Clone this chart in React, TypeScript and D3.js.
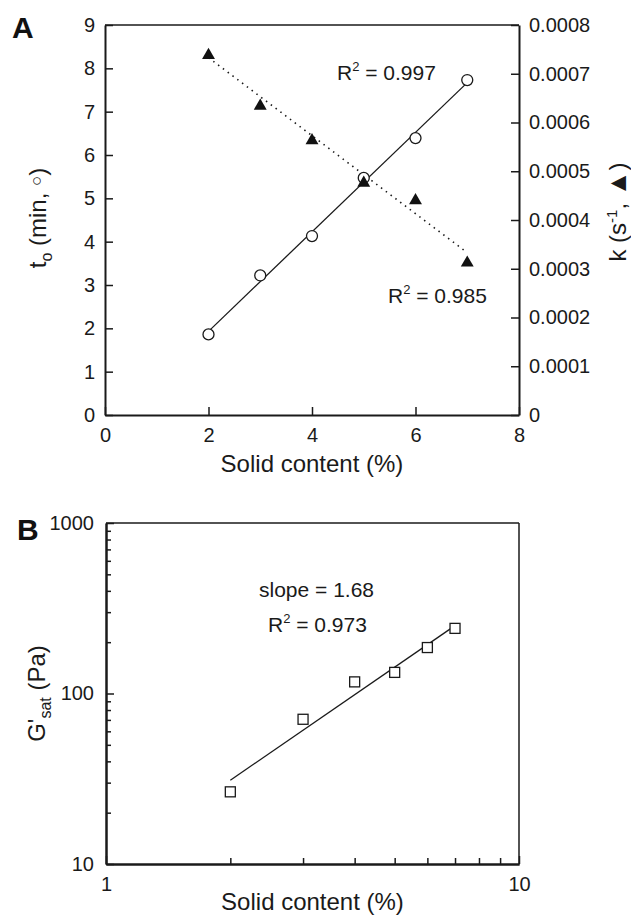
import React, { useEffect, useRef } from 'react';
import * as d3 from 'd3';

// panel A data
const solidContent = [2, 3, 4, 5, 6, 7];
const onsetTime = [1.86, 3.22, 4.13, 5.47, 6.39, 7.73];
const rateConstant = [0.000738, 0.000634, 0.000563, 0.000476, 0.00044, 0.000312];
const fitEnds = [2, 7];
const onsetFit = [1.93, 7.67];
const rateFit = [0.000733, 0.000333];
const tTicks = [0, 1, 2, 3, 4, 5, 6, 7, 8, 9];
const kTicks = [0, 0.0001, 0.0002, 0.0003, 0.0004, 0.0005, 0.0006, 0.0007, 0.0008];
const xTicksA = [0, 2, 4, 6, 8];

// panel B data
const gSat = [26.5, 70.6, 117, 133, 186, 241];
const gSatFit = [31, 250];
const gMajor = [10, 100, 1000];
const gMinor = [20, 30, 40, 50, 60, 70, 80, 90, 200, 300, 400, 500, 600, 700, 800, 900];
const xMajorB = [1, 10];
const xMinorB = [2, 3, 4, 5, 6, 7, 8, 9];

const FONT = '"Liberation Sans", Arial, Helvetica, sans-serif';

const App = () => {
  const ref = useRef<SVGSVGElement>(null);

  useEffect(() => {
    const svg = d3.select(ref.current);
    svg.selectAll('*').remove();

    const styleAxis = (g: any, width: number) => {
      g.attr('font-family', FONT).attr('font-size', 20);
      g.select('.domain').attr('stroke', '#1a1a1a').attr('stroke-width', width);
      g.selectAll('.tick line').attr('stroke', '#1a1a1a').attr('stroke-width', 1.5);
      g.selectAll('.tick text').attr('fill', '#1a1a1a');
    };

    // ---------- Panel A ----------
    const A = { left: 105, right: 519, top: 25, bottom: 415 };
    const x = d3.scaleLinear().domain([0, 8]).range([A.left, A.right]);
    const yT = d3.scaleLinear().domain([0, 9]).range([A.bottom, A.top]);
    const yK = d3.scaleLinear().domain([0, 0.0008]).range([A.bottom, A.top]);

    const pa = svg.append('g');

    // top border
    pa.append('line')
      .attr('x1', A.left).attr('x2', A.right)
      .attr('y1', A.top).attr('y2', A.top)
      .attr('stroke', '#1a1a1a').attr('stroke-width', 1.5);

    pa.append('g')
      .attr('transform', `translate(${A.left},0)`)
      .call(d3.axisLeft(yT).tickValues(tTicks).tickSizeInner(-8).tickSizeOuter(0).tickPadding(10).tickFormat(d3.format('d')))
      .call((g: any) => styleAxis(g, 2));

    pa.append('g')
      .attr('transform', `translate(${A.right},0)`)
      .call(
        d3.axisRight(yK).tickValues(kTicks).tickSizeInner(-8).tickSizeOuter(0).tickPadding(10)
          .tickFormat((d: any) => (d === 0 ? '0' : d3.format('.4f')(d)))
      )
      .call((g: any) => styleAxis(g, 2));

    pa.append('g')
      .attr('transform', `translate(0,${A.bottom})`)
      .call(d3.axisBottom(x).tickValues(xTicksA).tickSizeInner(-8).tickSizeOuter(0).tickPadding(13).tickFormat(d3.format('d')))
      .call((g: any) => styleAxis(g, 2));

    // fit lines
    pa.append('line')
      .attr('x1', x(fitEnds[0])).attr('y1', yT(onsetFit[0]))
      .attr('x2', x(fitEnds[1])).attr('y2', yT(onsetFit[1]))
      .attr('stroke', '#1a1a1a').attr('stroke-width', 1.3);

    pa.append('line')
      .attr('x1', x(fitEnds[0])).attr('y1', yK(rateFit[0]))
      .attr('x2', x(fitEnds[1])).attr('y2', yK(rateFit[1]))
      .attr('stroke', '#1a1a1a').attr('stroke-width', 1.6)
      .attr('stroke-dasharray', '1.5,4.5');

    // onset time circles
    pa.selectAll('.onset')
      .data(solidContent)
      .enter()
      .append('circle')
      .attr('class', 'onset')
      .attr('cx', (d) => x(d))
      .attr('cy', (d, i) => yT(onsetTime[i]))
      .attr('r', 5.5)
      .attr('fill', '#fff')
      .attr('stroke', '#1a1a1a')
      .attr('stroke-width', 1.3);

    // rate constant triangles
    const tri = d3.symbol().type(d3.symbolTriangle).size(72);
    pa.selectAll('.rate')
      .data(solidContent)
      .enter()
      .append('path')
      .attr('class', 'rate')
      .attr('d', tri)
      .attr('transform', (d, i) => `translate(${x(d)},${yK(rateConstant[i])})`)
      .attr('fill', '#111');

    const r2Label = (g: any, px: number, py: number, val: string) => {
      const t = g.append('text')
        .attr('x', px).attr('y', py)
        .attr('font-family', FONT).attr('font-size', 21).attr('fill', '#1a1a1a');
      t.append('tspan').text('R');
      t.append('tspan').attr('font-size', 13).attr('dy', -9).text('2');
      t.append('tspan').attr('dy', 9).text(` = ${val}`);
    };
    r2Label(pa, 337, 80, '0.997');
    r2Label(pa, 388, 303, '0.985');

    // axis titles
    pa.append('text')
      .attr('x', (A.left + A.right) / 2).attr('y', 472)
      .attr('text-anchor', 'middle')
      .attr('font-family', FONT).attr('font-size', 24).attr('fill', '#1a1a1a')
      .text('Solid content (%)');

    const tLab = pa.append('text')
      .attr('transform', `translate(46,218) rotate(-90)`)
      .attr('text-anchor', 'middle')
      .attr('font-family', FONT).attr('font-size', 24).attr('fill', '#1a1a1a');
    tLab.append('tspan').text('t');
    tLab.append('tspan').attr('font-size', 16).attr('dy', 6).text('o');
    tLab.append('tspan').attr('dy', -6).text(' (min, ');
    tLab.append('tspan').attr('font-size', 17).attr('dy', -4).text('○');
    tLab.append('tspan').attr('dy', 4).text(')');

    const kLab = pa.append('text')
      .attr('transform', `translate(626,212) rotate(-90)`)
      .attr('text-anchor', 'middle')
      .attr('font-family', FONT).attr('font-size', 24).attr('fill', '#1a1a1a');
    kLab.append('tspan').text('k (s');
    kLab.append('tspan').attr('font-size', 15).attr('dy', -9).text('-1');
    kLab.append('tspan').attr('dy', 9).text(', ');
    kLab.append('tspan').attr('font-size', 26).text('▲');
    kLab.append('tspan').text(')');

    pa.append('text')
      .attr('x', 12).attr('y', 38)
      .attr('font-family', FONT).attr('font-size', 30).attr('font-weight', 'bold').attr('fill', '#111')
      .text('A');

    // ---------- Panel B ----------
    const B = { left: 106, right: 519, top: 523, bottom: 864 };
    const xl = d3.scaleLog().domain([1, 10]).range([B.left, B.right]);
    const yl = d3.scaleLog().domain([10, 1000]).range([B.bottom, B.top]);

    const pb = svg.append('g');

    pb.append('line')
      .attr('x1', B.left).attr('x2', B.right)
      .attr('y1', B.top).attr('y2', B.top)
      .attr('stroke', '#1a1a1a').attr('stroke-width', 1.5);
    pb.append('line')
      .attr('x1', B.right).attr('x2', B.right)
      .attr('y1', B.top).attr('y2', B.bottom)
      .attr('stroke', '#1a1a1a').attr('stroke-width', 1.5);

    pb.append('g')
      .attr('transform', `translate(${B.left},0)`)
      .call(d3.axisLeft(yl).tickValues(gMinor).tickSizeInner(-5).tickSizeOuter(0).tickFormat(() => ''))
      .call((g: any) => styleAxis(g, 2));
    pb.append('g')
      .attr('transform', `translate(${B.left},0)`)
      .call(d3.axisLeft(yl).tickValues(gMajor).tickSizeInner(-8).tickSizeOuter(0).tickPadding(12).tickFormat(d3.format('d')))
      .call((g: any) => styleAxis(g, 2));

    pb.append('g')
      .attr('transform', `translate(0,${B.bottom})`)
      .call(d3.axisBottom(xl).tickValues(xMinorB).tickSizeInner(-6).tickSizeOuter(0).tickFormat(() => ''))
      .call((g: any) => styleAxis(g, 2));
    pb.append('g')
      .attr('transform', `translate(0,${B.bottom})`)
      .call(d3.axisBottom(xl).tickValues(xMajorB).tickSizeInner(-8).tickSizeOuter(0).tickPadding(13).tickFormat(d3.format('d')))
      .call((g: any) => styleAxis(g, 2));

    pb.append('line')
      .attr('x1', xl(fitEnds[0])).attr('y1', yl(gSatFit[0]))
      .attr('x2', xl(fitEnds[1])).attr('y2', yl(gSatFit[1]))
      .attr('stroke', '#1a1a1a').attr('stroke-width', 1.3);

    const sq = 10;
    pb.selectAll('.gsat')
      .data(solidContent)
      .enter()
      .append('rect')
      .attr('class', 'gsat')
      .attr('x', (d) => xl(d) - sq / 2)
      .attr('y', (d, i) => yl(gSat[i]) - sq / 2)
      .attr('width', sq).attr('height', sq)
      .attr('fill', '#fff')
      .attr('stroke', '#1a1a1a')
      .attr('stroke-width', 1.3);

    pb.append('text')
      .attr('x', 259).attr('y', 597)
      .attr('font-family', FONT).attr('font-size', 21).attr('fill', '#1a1a1a')
      .text('slope = 1.68');
    r2Label(pb, 268, 632, '0.973');

    pb.append('text')
      .attr('x', (B.left + B.right) / 2).attr('y', 910)
      .attr('text-anchor', 'middle')
      .attr('font-family', FONT).attr('font-size', 24).attr('fill', '#1a1a1a')
      .text('Solid content (%)');

    const gLab = pb.append('text')
      .attr('transform', `translate(45,${(B.top + B.bottom) / 2}) rotate(-90)`)
      .attr('text-anchor', 'middle')
      .attr('font-family', FONT).attr('font-size', 24).attr('fill', '#1a1a1a');
    gLab.append('tspan').text("G'");
    gLab.append('tspan').attr('font-size', 16).attr('dy', 6).text('sat');
    gLab.append('tspan').attr('dy', -6).text(' (Pa)');

    pb.append('text')
      .attr('x', 17).attr('y', 540)
      .attr('font-family', FONT).attr('font-size', 30).attr('font-weight', 'bold').attr('fill', '#111')
      .text('B');
  }, []);

  return (
    <svg
      ref={ref}
      width={631}
      height={917}
      style={{ position: 'absolute', left: 0, top: 0, background: '#fff' }}
    />
  );
};

export default App;
